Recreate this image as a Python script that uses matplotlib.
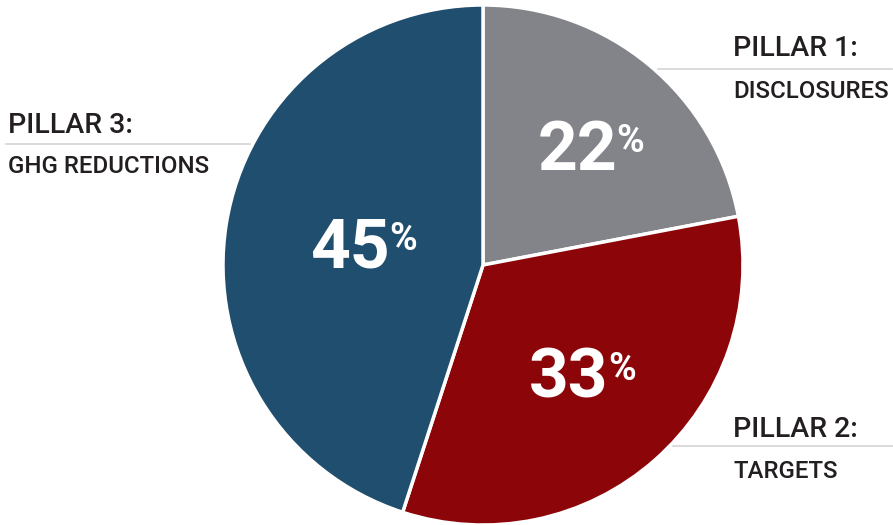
import matplotlib.pyplot as plt

shares = [22, 33, 45]
colors = ['#838489', '#8b0509', '#1f4e6e']
pct_labels = ['22', '33', '45']
titles = ['PILLAR 1:', 'PILLAR 2:', 'PILLAR 3:']
subtitles = ['DISCLOSURES', 'TARGETS', 'GHG REDUCTIONS']

plt.rcParams['font.family'] = ['Roboto', 'DejaVu Sans']

W, H = 893, 525
fig = plt.figure(figsize=(W / 100, H / 100), dpi=100)
ax = fig.add_axes([0, 0, 1, 1])

# pie in pixel coords (y down -> counterclock=True draws clockwise on screen)
wedges, _ = ax.pie(shares, colors=colors, startangle=-90, counterclock=True,
                   center=(483, 265), radius=260, frame=True,
                   wedgeprops=dict(edgecolor='white', linewidth=2.5))
ax.set_xlim(0, W)
ax.set_ylim(H, 0)
ax.set_aspect('equal')
ax.axis('off')

# percentage labels (number + small raised %)
pct_pos = [(577, 170), (569, 398), (350, 268)]
for (x, y), num in zip(pct_pos, pct_labels):
    ax.text(x, y, num, ha='center', va='baseline', color='white',
            fontsize=50, fontweight='bold')
    ax.text(x + 39, y - 18, '%', ha='left', va='baseline', color='white',
            fontsize=27, fontweight='bold')

# callout labels
callouts = [
    dict(tx=733, ty=56, sy=98, lx0=658, lx1=892, ly=69),
    dict(tx=733, ty=437, sy=478, lx0=673, lx1=893, ly=446),
    dict(tx=8, ty=133, sy=173, lx0=6, lx1=250, ly=144),
]
for c, t, s in zip(callouts, titles, subtitles):
    ax.text(c['tx'], c['ty'], t, ha='left', va='baseline', color='#231f20',
            fontsize=20.5, fontweight='medium')
    ax.text(c['tx'], c['sy'], s, ha='left', va='baseline', color='#231f20',
            fontsize=17.3, fontweight='medium')
    ax.plot([c['lx0'], c['lx1']], [c['ly'], c['ly']], color='#d4d4d4', lw=1.2)

fig.savefig('out.png', dpi=100, facecolor='white')
